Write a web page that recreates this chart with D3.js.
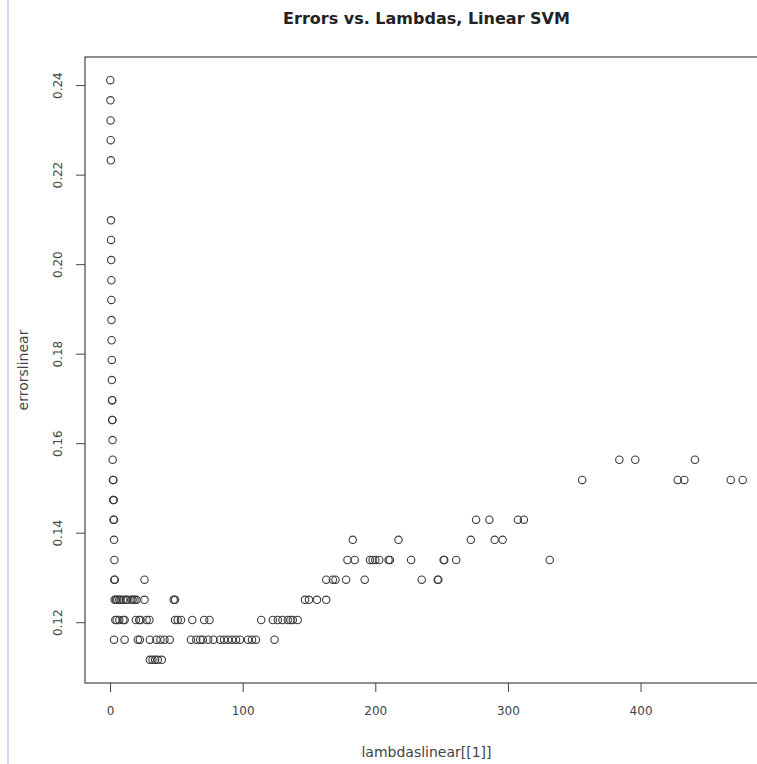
<!DOCTYPE html>
<html>
<head>
<meta charset="utf-8">
<script src="https://cdn.jsdelivr.net/npm/d3@7"></script>
<style>
  body { margin: 0; background: #fff; }
  svg { display: block; }
</style>
</head>
<body>
<div id="chart"></div>
<script>
// error levels (one row per distinct error value) and the lambdas that hit them
const errorLevels = [
  0.2411, 0.2366, 0.2321, 0.2277, 0.2232,
  0.2098, 0.2054, 0.2009, 0.1964, 0.1920, 0.1875, 0.1830, 0.1786, 0.1741,
  0.1696, 0.1652, 0.1607, 0.1563, 0.1518, 0.1473, 0.1429, 0.1384,
  0.1339, 0.1295, 0.1250, 0.1205, 0.1161, 0.1116
];

const lambdasByLevel = [
  [0.2], [0.3], [0.4], [0.5], [0.6],
  [0.7], [0.8], [0.9], [1.0], [1.0], [1.1], [1.2], [1.3], [1.4],
  [1.5, 1.7],
  [1.6, 1.8],
  [1.9],
  [2.0, 384, 396, 441],
  [2.2, 2.5, 356, 428, 433, 468, 477],
  [2.4, 2.8],
  [2.6, 3.0, 276, 286, 307.5, 312],
  [3.0, 183, 217.5, 272, 290, 296],
  [3.3, 179, 184.5, 196, 198, 200, 203, 210, 211, 227, 251.5, 252, 261, 331.5],
  [3.2, 3.6, 26, 163, 168, 170, 178, 192, 235, 247, 247.5],
  [3.5, 4.5, 5.5, 7, 8, 10, 12, 13, 16, 17, 18.5, 20, 26, 48, 49, 147, 150, 156, 163],
  [4, 5, 7, 10, 11, 19.5, 22, 23, 27.6, 29.7, 49, 51, 53.5, 62, 71, 75, 114,
   122.7, 126.5, 130, 134, 136, 137.8, 141.5],
  [3, 11, 21, 22.5, 30, 35, 38, 41, 45, 61, 65, 68, 70, 74, 78, 83, 86, 89, 92,
   95, 98, 104, 107, 110, 124],
  [30, 32, 34, 36, 39]
];

const xTicks = [0, 100, 200, 300, 400];
const yTicks = [0.12, 0.14, 0.16, 0.18, 0.20, 0.22, 0.24];

// flatten into points
const points = [];
errorLevels.forEach((e, i) => {
  lambdasByLevel[i].forEach(l => points.push({lambda: l, error: e}));
});

const W = 757, H = 764;
// plot region (right edge falls off the cropped screenshot)
const plotLeft = 85, plotRight = 768, plotTop = 57, plotBottom = 683;

const svg = d3.select("#chart")
  .append("svg")
  .attr("width", W)
  .attr("height", H);

// R style 4% padding around the data range
const xExt = d3.extent(points, d => d.lambda);
const yExt = d3.extent(points, d => d.error);
const xPad = (xExt[1] - xExt[0]) * 0.04;
const yPad = (yExt[1] - yExt[0]) * 0.04;

const x = d3.scaleLinear()
  .domain([xExt[0] - xPad, xExt[1] + xPad])
  .range([plotLeft, plotRight]);

const y = d3.scaleLinear()
  .domain([yExt[0] - yPad, yExt[1] + yPad])
  .range([plotBottom, plotTop]);

// faint window edge on the left of the screenshot
svg.append("line")
  .attr("x1", 8).attr("x2", 8)
  .attr("y1", 0).attr("y2", H)
  .attr("stroke", "#d4d4f2")
  .attr("stroke-width", 2);

// box
svg.append("rect")
  .attr("x", plotLeft)
  .attr("y", plotTop)
  .attr("width", plotRight - plotLeft)
  .attr("height", plotBottom - plotTop)
  .attr("fill", "none")
  .attr("stroke", "#444")
  .attr("stroke-width", 1.2);

// X axis
const gx = svg.append("g")
  .attr("transform", `translate(0, ${plotBottom})`)
  .call(d3.axisBottom(x).tickValues(xTicks).tickSize(9).tickPadding(14).tickFormat(d3.format("d")));
gx.select(".domain").remove();
gx.selectAll("line").attr("stroke", "#444");
gx.selectAll("text")
  .attr("fill", "#444")
  .style("font-family", "DejaVu Sans, sans-serif")
  .style("font-size", "12px");

// Y axis, labels rotated like R's default las=0
const gy = svg.append("g")
  .attr("transform", `translate(${plotLeft}, 0)`)
  .call(d3.axisLeft(y).tickValues(yTicks).tickSize(9).tickFormat(d3.format(".2f")));
gy.select(".domain").remove();
gy.selectAll("line").attr("stroke", "#444");
gy.selectAll("text")
  .attr("x", null)
  .attr("dy", null)
  .attr("fill", "#444")
  .attr("text-anchor", "middle")
  .attr("transform", "translate(-23, 0) rotate(-90)")
  .style("font-family", "DejaVu Sans, sans-serif")
  .style("font-size", "12px");

// points (open circles, pch = 1)
svg.append("g")
  .selectAll("circle")
  .data(points)
  .join("circle")
  .attr("cx", d => x(d.lambda))
  .attr("cy", d => y(d.error))
  .attr("r", 3.7)
  .attr("fill", "none")
  .attr("stroke", "#3a3a3a")
  .attr("stroke-width", 1.1);

const mid = (plotLeft + plotRight) / 2;

// title
svg.append("text")
  .attr("x", mid)
  .attr("y", 24)
  .attr("text-anchor", "middle")
  .attr("fill", "#222")
  .style("font-family", "DejaVu Sans, sans-serif")
  .style("font-weight", "bold")
  .style("font-size", "16px")
  .text("Errors vs. Lambdas, Linear SVM");

// axis titles
svg.append("text")
  .attr("x", mid)
  .attr("y", 757)
  .attr("text-anchor", "middle")
  .attr("fill", "#444")
  .style("font-family", "DejaVu Sans, sans-serif")
  .style("font-size", "14px")
  .text("lambdaslinear[[1]]");

svg.append("text")
  .attr("transform", `translate(28, ${(plotTop + plotBottom) / 2}) rotate(-90)`)
  .attr("text-anchor", "middle")
  .attr("fill", "#444")
  .style("font-family", "DejaVu Sans, sans-serif")
  .style("font-size", "14px")
  .text("errorslinear");
</script>
</body>
</html>
